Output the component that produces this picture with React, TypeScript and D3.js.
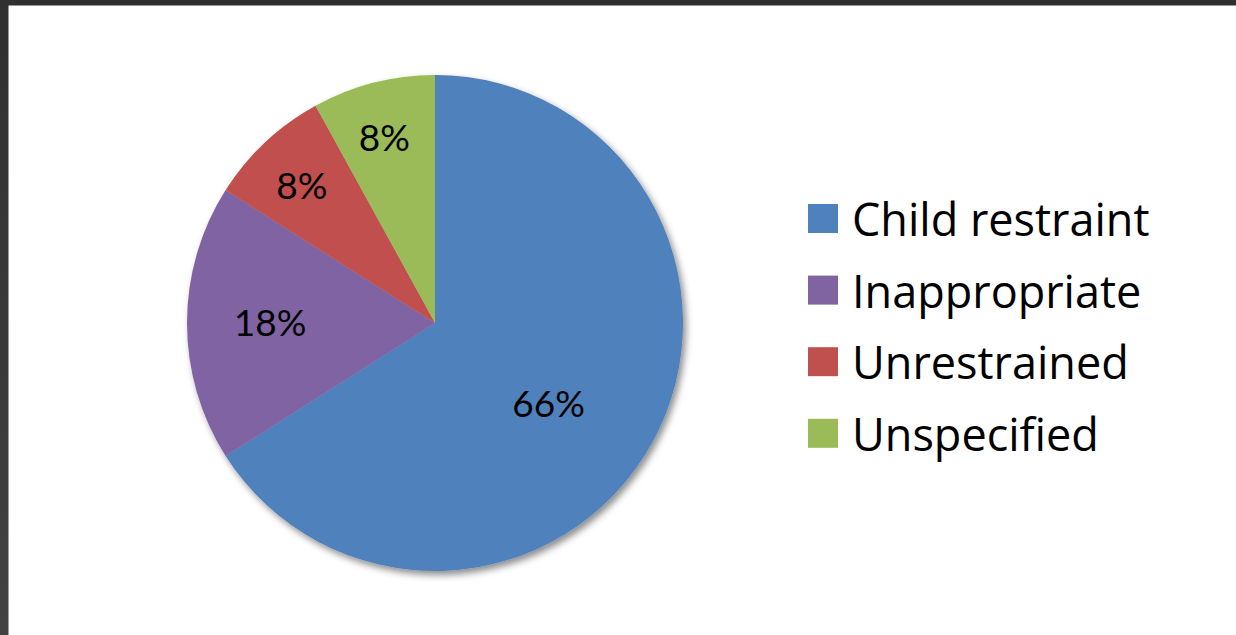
import React from "react";
import * as d3 from "d3";

const categories = ["Child restraint", "Inappropriate", "Unrestrained", "Unspecified"];
const values = [66, 18, 8, 8];
const colors = ["#4f81bd", "#8064a2", "#c0504d", "#9bbb59"];

const W = 1236;
const H = 635;
const cx = 435;
const cy = 323;
const R = 248;
const LABEL_FONT = "Lato, 'Open Sans', sans-serif";
const LEGEND_FONT = "'Open Sans', Lato, sans-serif";

// label placement (radius fraction and angle nudge, degrees) – mimics Excel best-fit
const labelPlacement = [
  { rf: 0.565, da: 7 },
  { rf: 0.665, da: 0 },
  { rf: 0.77, da: -1 },
  { rf: 0.77, da: -1 },
];

export default function App() {
  const total = d3.sum(values);
  const pie = d3
    .pie<number>()
    .sort(null)
    .value((d) => d);
  const arcs = pie(values);
  const arc = d3.arc<d3.PieArcDatum<number>>().innerRadius(0).outerRadius(R);

  const legendX = 808;
  const legendY0 = 218.5;
  const legendStep = 71.6;
  const sq = 29;

  return (
    <svg
      width={W}
      height={H}
      style={{ position: "absolute", left: 0, top: 0, display: "block" }}
    >
      <defs>
        <filter id="shadow" x="-20%" y="-20%" width="140%" height="140%">
          <feDropShadow dx="3" dy="4" stdDeviation="3.5" floodColor="#000" floodOpacity="0.45" />
        </filter>
        <linearGradient id="leftband" x1="0" y1="0" x2="0" y2="1">
          <stop offset="0" stopColor="#303030" />
          <stop offset="1" stopColor="#424242" />
        </linearGradient>
      </defs>
      <rect x={0} y={0} width={W} height={H} fill="#ffffff" />
      <rect x={0} y={0} width={W} height={5.5} fill="#2f2f2f" />
      <rect x={0} y={0} width={8.5} height={H} fill="url(#leftband)" />

      <g transform={`translate(${cx},${cy})`}>
        <g filter="url(#shadow)">
          {arcs.map((a, i) => (
            <path key={i} d={arc(a) || ""} fill={colors[i]} />
          ))}
        </g>
        {arcs.map((a, i) => {
          const mid = (a.startAngle + a.endAngle) / 2 + (labelPlacement[i].da * Math.PI) / 180;
          const r = R * labelPlacement[i].rf;
          const x = Math.sin(mid) * r;
          const y = -Math.cos(mid) * r;
          return (
            <text
              key={i}
              x={x}
              y={y - 2}
              textAnchor="middle"
              dominantBaseline="central"
              fontFamily={LABEL_FONT}
              fontSize={37}
              fill="#000"
            >
              {`${Math.round((values[i] / total) * 100)}%`}
            </text>
          );
        })}
      </g>

      <g>
        {categories.map((c, i) => {
          const y = legendY0 + i * legendStep;
          return (
            <g key={c}>
              <rect x={legendX} y={y - sq / 2} width={sq + 1} height={sq} fill={colors[i]} />
              <text
                x={852}
                y={y}
                dominantBaseline="central"
                fontFamily={LEGEND_FONT}
                fontSize={45}
                fill="#000"
              >
                {c}
              </text>
            </g>
          );
        })}
      </g>
    </svg>
  );
}
